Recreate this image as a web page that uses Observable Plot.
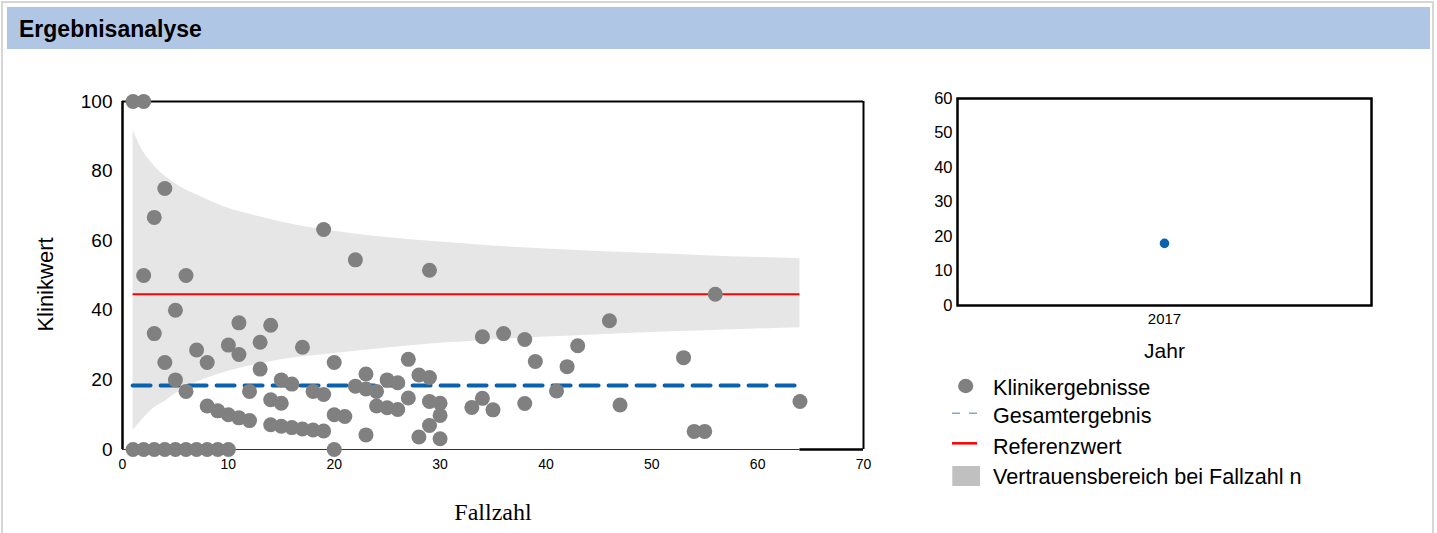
<!DOCTYPE html>
<html><head><meta charset="utf-8">
<script src="https://cdn.jsdelivr.net/npm/d3@7"></script>
<script src="https://cdn.jsdelivr.net/npm/@observablehq/plot@0.6"></script>
<style>
body{margin:0;background:#fff;font-family:"Liberation Sans",Arial,sans-serif;}
#wrap{position:relative;width:1437px;height:533px;overflow:hidden;background:#fff;}
#border{position:absolute;left:1px;top:1px;width:1429px;height:600px;border:2px solid #d6d6d6;}
#header{position:absolute;left:7px;top:7px;width:1423px;height:42px;background:#b0c6e5;}
#header span{position:absolute;left:12px;top:11px;font-weight:bold;font-size:23px;line-height:23px;color:#000;}
.plot{position:absolute;top:0;}
.lg{position:absolute;font-size:21.6px;line-height:21px;color:#000;white-space:nowrap;}
.sw{position:absolute;}
</style>
</head><body>
<div id="wrap">
  <div id="border"></div>
  <div id="left" class="plot" style="left:0px"></div>
  <div id="right" class="plot" style="left:880px"></div>
  <div id="header"><span>Ergebnisanalyse</span></div>
  <div id="legend"></div>
</div>
<script>
// ---- data ----
const fallzahl = [1,2, 1,2,3,4,5,6,7,8,9,10,
  4,3,2,6,5,3,4,5,6,
  7,8,8,9,10,10,
  11,11,11,12,12,
  13,13,14,14,14,
  15,15,15,16,16,
  17,17,18,18,19,19,19,
  20,20,20,21,
  22,22,23,23,23,24,24,
  25,25,26,26,27,27,
  28,28,29,29,29,29,
  30,30,30,
  33,34,34,35,36,38,38,39,
  41,42,43,46,47,53,54,55,56,64];
const klinikwert = [100,100, 0,0,0,0,0,0,0,0,0,0,
  75,66.7,50,50,40,33.3,25,20,16.7,
  28.6,25,12.5,11.1,10,30,
  36.4,27.3,9.1,8.3,16.7,
  30.8,23.1,35.7,14.3,7.1,
  20,13.3,6.7,18.8,6.3,
  29.4,5.9,16.7,5.6,63.2,15.8,5.3,
  25,10,0,9.5,
  54.5,18.2,21.7,17.4,4.2,16.7,12.5,
  20,12,19.2,11.5,25.9,14.8,
  21.4,3.6,51.5,20.7,13.8,6.9,
  13.3,9.8,3.1,
  12.1,32.4,14.7,11.4,33.3,31.6,13.2,25.3,
  16.8,23.8,29.8,37,12.8,26.4,5.2,5.2,44.6,13.8];

const bandN     = [1,2,3,4,5,6,7,8,10,12,15,20,25,30,35,40,45,50,55,60,64];
const bandUpper = [91.7,85.4,81.5,78.6,76.4,74.6,73.2,71.8,69.3,67.6,65.4,62.7,60.9,59.6,58.5,57.6,56.9,56.3,55.7,55.2,54.8];
const bandLower = [5.5,9,12,13.8,16,17.8,19.3,20.5,22.5,24,25.8,27.6,29.2,30.5,31.5,32.3,33,33.6,34.1,34.6,35];

const referenzwert = 44.6;
const gesamtergebnis = 18.4;

const jahre = ["2017"];
const jahresWerte = [18.0];

const xTicks = [0,10,20,30,40,50,60,70];
const yTicks = [0,20,40,60,80,100];
const yTicksRight = [0,10,20,30,40,50,60];

// ---- tables ----
const points = fallzahl.map((n,i) => ({n, v: klinikwert[i]}));
const band = bandN.map((n,i) => ({n, lo: bandLower[i], hi: bandUpper[i]}));
const nMin = bandN[0], nMax = bandN[bandN.length-1];
const yearData = jahre.map((j,i) => ({j, v: jahresWerte[i]}));

const font = "'Liberation Sans', Arial, sans-serif";

const left = Plot.plot({
  width: 900, height: 533,
  marginLeft: 122, marginRight: 37, marginTop: 101, marginBottom: 84,
  style: {fontFamily: font, background: "transparent", overflow: "visible", color: "#000"},
  x: {domain: [0,70], axis: null},
  y: {domain: [0,100], axis: null},
  marks: [
    Plot.areaY(band, {x: "n", y1: "lo", y2: "hi", fill: "#e6e6e6", curve: "monotone-x"}),
    Plot.ruleY([0], {x1: xTicks[0], x2: nMax, stroke: "#333", strokeWidth: 1}),
    Plot.ruleY([0], {x1: nMax, x2: xTicks[xTicks.length-1], stroke: "#000", strokeWidth: 2.5}),
    Plot.ruleY([100], {x1: 0, x2: 70, stroke: "#000", strokeWidth: 2}),
    Plot.ruleX([0], {y1: 0, y2: 100, stroke: "#000", strokeWidth: 2.5}),
    Plot.ruleX([70], {y1: 0, y2: 100, stroke: "#000", strokeWidth: 2}),
    Plot.ruleY([referenzwert], {x1: nMin, x2: nMax, stroke: "#ff0000", strokeWidth: 2}),
    Plot.ruleY([gesamtergebnis], {x1: nMin, x2: nMax, stroke: "#0862ad", strokeWidth: 4, strokeDasharray: "18,10", strokeLinecap: "round"}),
    Plot.dot(points, {x: "n", y: "v", r: 7.5, fill: "#808080", stroke: null}),
    Plot.axisX(xTicks, {tickSize: 0, tickPadding: 10, fontSize: 14, label: null}),
    Plot.axisY(yTicks, {tickSize: 0, tickPadding: 10, fontSize: 19, label: null}),
    Plot.text(["Fallzahl"], {frameAnchor: "bottom", dy: 63, fontSize: 24, fontFamily: "'Liberation Serif', 'Times New Roman', serif", lineAnchor: "middle"}),
    Plot.text(["Klinikwert"], {frameAnchor: "left", dx: -77, dy: 9, rotate: -90, fontSize: 22, fontFamily: font, textAnchor: "middle", lineAnchor: "middle"})
  ]
});
document.getElementById("left").appendChild(left);

const right = Plot.plot({
  width: 520, height: 533,
  marginLeft: 77, marginRight: 29, marginTop: 98, marginBottom: 228,
  style: {fontFamily: font, background: "transparent", overflow: "visible", color: "#000"},
  x: {type: "point", domain: jahre, axis: null},
  y: {domain: [0,60], axis: null},
  marks: [
    Plot.frame({stroke: "#000", strokeWidth: 2.5}),
    Plot.dot(yearData, {x: "j", y: "v", r: 4.8, fill: "#0862ad", stroke: null}),
    Plot.axisX(jahre, {tickSize: 0, tickPadding: 8, fontSize: 15, label: null}),
    Plot.axisY(yTicksRight, {tickSize: 0, tickPadding: 5, fontSize: 16.5, label: null}),
    Plot.text(["Jahr"], {frameAnchor: "bottom", dy: 46, fontSize: 21, fontFamily: font, lineAnchor: "middle"})
  ]
});
document.getElementById("right").appendChild(right);

// ---- legend ----
const legendItems = ["Klinikergebnisse", "Gesamtergebnis", "Referenzwert", "Vertrauensbereich bei Fallzahl n"];
const legendTops = [377, 404.5, 435.5, 465.5];
const lg = document.getElementById("legend");
legendItems.forEach((t,i) => {
  const d = document.createElement("div");
  d.className = "lg"; d.style.left = "993px"; d.style.top = legendTops[i] + "px";
  d.textContent = t; lg.appendChild(d);
});
lg.insertAdjacentHTML("beforeend", `
  <svg class="sw" style="left:950px;top:370px" width="40" height="125">
    <ellipse cx="15.7" cy="16" rx="7.6" ry="7.2" fill="#808080"/>
    <line x1="2" x2="27" y1="43.3" y2="43.3" stroke="#86a6d8" stroke-width="1.6" stroke-dasharray="8,9"/>
    <line x1="2" x2="27" y1="73.3" y2="73.3" stroke="#ff0000" stroke-width="2.5"/>
    <rect x="2.3" y="96" width="27.7" height="20" fill="#c0c0c0"/>
  </svg>`);
</script>
</body></html>
